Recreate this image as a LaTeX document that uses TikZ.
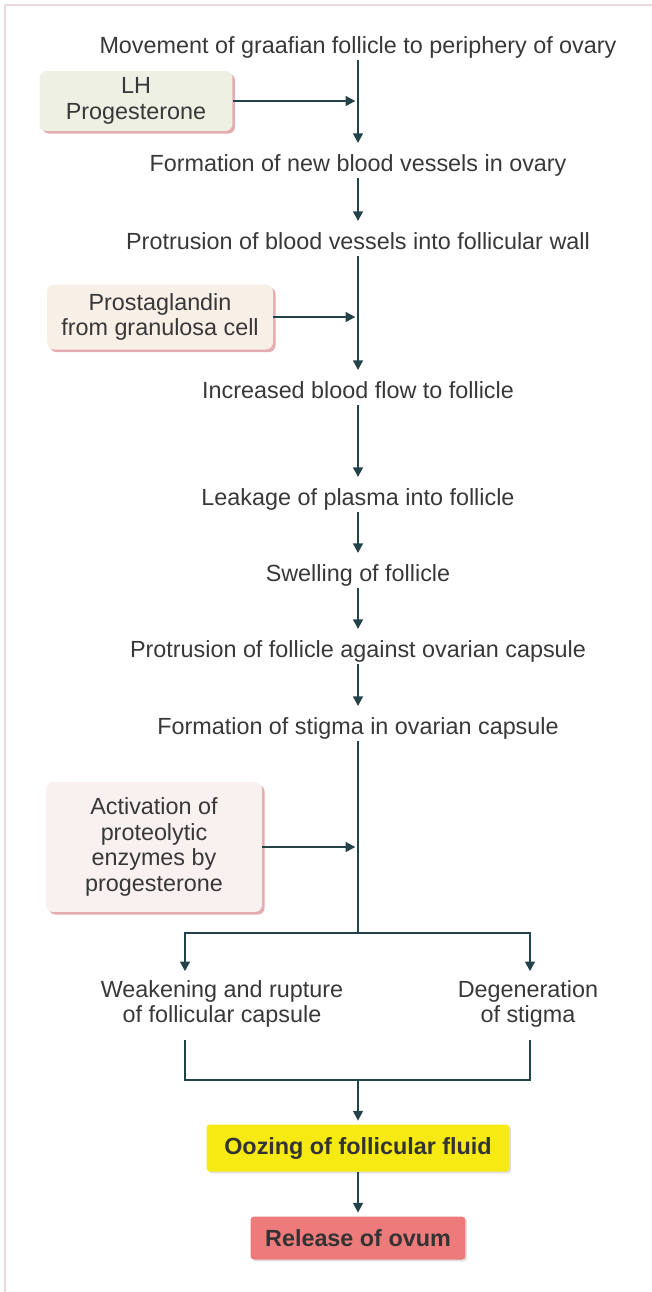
\documentclass[tikz,border=0pt]{standalone}
\usepackage{fontspec}
\setmainfont{Liberation Sans}
\usepackage{xcolor}
\usepackage{tikz}
\usetikzlibrary{arrows.meta, positioning, calc, shadows}
\definecolor{flowSlate}{HTML}{23434B}
\definecolor{textGray}{HTML}{383838}
\definecolor{sageTint}{HTML}{EEF0E4}
\definecolor{peachTint}{HTML}{F8EFE7}
\definecolor{roseTint}{HTML}{F8F1EF}
\definecolor{shadowPink}{HTML}{E2A3A9}
\definecolor{oozeYellow}{HTML}{F6EA12}
\definecolor{releaseRed}{HTML}{EE7B7B}
\definecolor{frameRose}{HTML}{EBDADC}
\tikzset{
    step_text/.style={
        font=\fontsize{13.3}{14.5}\selectfont, text=textGray,
        inner sep=1pt, text height=9.8pt, text depth=2.8pt
    },
    branch_text/.style={
        font=\fontsize{13.3}{14.5}\selectfont, text=textGray,
        inner sep=1pt, align=center
    },
    box_side_sage/.style={
        rectangle, rounded corners=4pt, fill=sageTint, draw=none,
        font=\fontsize{13.3}{14.5}\selectfont, text=textGray, align=center,
        drop shadow={shadow xshift=1.5pt, shadow yshift=-1.5pt, fill=shadowPink, opacity=0.9}
    },
    box_side_peach/.style={
        box_side_sage, fill=peachTint
    },
    box_side_rose/.style={
        box_side_sage, fill=roseTint
    },
    box_key_yellow/.style={
        rectangle, rounded corners=2pt, fill=oozeYellow, draw=none,
        font=\fontsize{13.3}{14.5}\selectfont\bfseries, text=black!80,
        drop shadow={shadow xshift=1pt, shadow yshift=-1pt, fill=black, opacity=0.12}
    },
    box_key_red/.style={
        box_key_yellow, fill=releaseRed
    },
    flow_line/.style={
        draw=flowSlate, line width=1.2pt
    },
    flow_arrow/.style={
        flow_line, ->
    },
    flow_step/.style={
        flow_arrow, shorten >=5pt
    }
}

\begin{document}
\begin{tikzpicture}[x=0.02cm, y=-0.02cm, >={Triangle[length=5.5pt, width=5.5pt]}]
    \useasboundingbox (0,0) rectangle (652,1292);
    \draw[frameRose, line width=0.8pt] (5,5) rectangle (720,1360);

    % Main chain of events down the centre line
    \node[step_text] (t_move) at (358,47) {Movement of graafian follicle to periphery of ovary};
    \node[step_text] (t_vessels) at (358,165) {Formation of new blood vessels in ovary};
    \node[step_text] (t_protrude) at (358,243) {Protrusion of blood vessels into follicular wall};
    \node[step_text] (t_flow) at (358,392) {Increased blood flow to follicle};
    \node[step_text] (t_leak) at (358,499) {Leakage of plasma into follicle};
    \node[step_text] (t_swell) at (358,575) {Swelling of follicle};
    \node[step_text] (t_capsule) at (358,651) {Protrusion of follicle against ovarian capsule};
    \node[step_text] (t_stigma) at (358,728) {Formation of stigma in ovarian capsule};

    % Side inputs
    \node[box_side_sage, minimum width=3.86cm, minimum height=1.2cm] (lh_box) at (136,101) {LH\\Progesterone};
    \node[box_side_peach, minimum width=4.52cm, minimum height=1.3cm] (pg_box) at (160,317) {Prostaglandin\\from granulosa cell};
    \node[box_side_rose, minimum width=4.32cm, minimum height=2.6cm] (enz_box) at (154,847) {Activation of\\proteolytic\\enzymes by\\progesterone};

    % Branches, then outcome
    \node[branch_text] (t_weak) at (222,1004) {Weakening and rupture\\of follicular capsule};
    \node[branch_text] (t_degen) at (528,1004) {Degeneration\\of stigma};
    \node[box_key_yellow, minimum width=6.06cm, minimum height=0.94cm] (ooze_box) at (358,1148) {Oozing of follicular fluid};
    \node[box_key_red, minimum width=4.3cm, minimum height=0.86cm] (ovum_box) at (358,1238) {Release of ovum};

    \coordinate (fork) at (358,933);
    \coordinate (fork_l) at (185,933);
    \coordinate (fork_r) at (530,933);
    \coordinate (join) at (358,1080);

    % Centre line arrows
    \draw[flow_step] (t_move.south) -- (t_vessels.north);
    \draw[flow_step] (t_vessels.south) -- (t_protrude.north);
    \draw[flow_step] (t_protrude.south) -- (t_flow.north);
    \draw[flow_step] (t_flow.south) -- (t_leak.north);
    \draw[flow_step] (t_leak.south) -- (t_swell.north);
    \draw[flow_step] (t_swell.south) -- (t_capsule.north);
    \draw[flow_step] (t_capsule.south) -- (t_stigma.north);
    \draw[flow_line] (t_stigma.south) -- (fork);

    % Side inputs meet the centre line
    \draw[flow_arrow, shorten >=1.5pt] (lh_box.east) -- (lh_box.east -| t_move.south);
    \draw[flow_arrow, shorten >=1.5pt] (pg_box.east) -- (pg_box.east -| t_move.south);
    \draw[flow_arrow, shorten >=1.5pt] (enz_box.east) -- (enz_box.east -| t_move.south);

    % Split into the two branches
    \draw[flow_arrow, shorten >=4pt] (fork) -| (fork_l |- t_weak.north);
    \draw[flow_arrow, shorten >=4pt] (fork) -| (fork_r |- t_degen.north);

    % Bracket joins them again
    \draw[flow_line, shorten <=6pt, shorten >=6pt] (fork_l |- t_weak.south) -- (fork_l |- join) -- (fork_r |- join) -- (fork_r |- t_degen.south);
    \draw[flow_arrow, shorten >=2pt] (join) -- (ooze_box.north);
    \draw[flow_arrow, shorten >=2pt] (ooze_box.south) -- (ovum_box.north);
\end{tikzpicture}
\end{document}
